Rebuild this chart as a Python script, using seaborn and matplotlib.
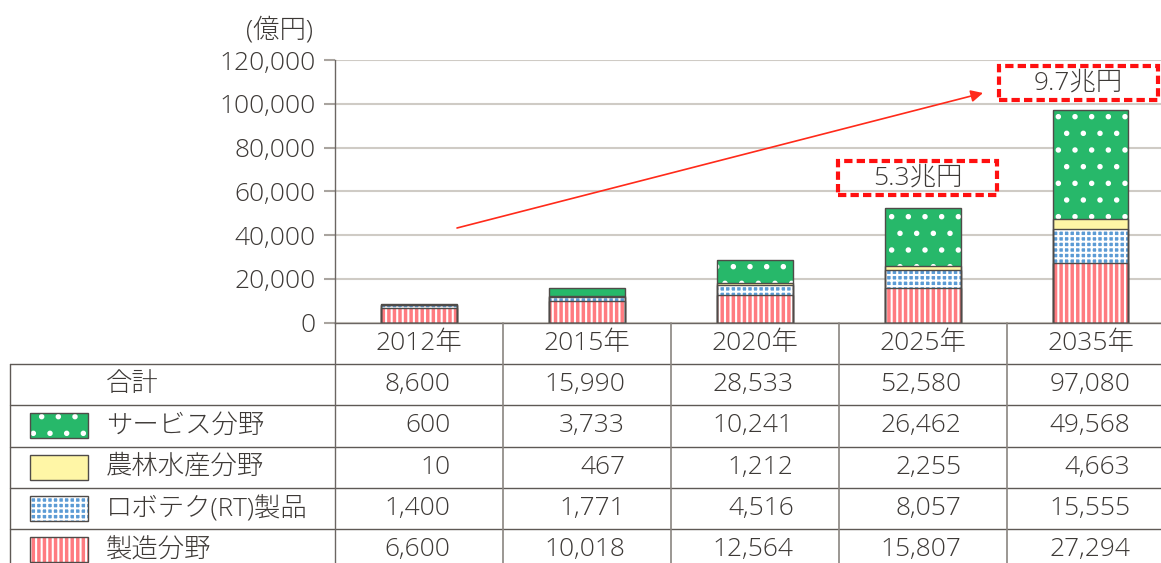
import numpy as np
import matplotlib
matplotlib.use('Agg')
import matplotlib.pyplot as plt
import matplotlib.patches as mpatches
import matplotlib.transforms as mtransforms
from matplotlib.lines import Line2D
from matplotlib.textpath import TextPath
from matplotlib.font_manager import FontProperties
import seaborn as sns

# data (億円)
years = ['2012年', '2015年', '2020年', '2025年', '2035年']
total = [8600, 15990, 28533, 52580, 97080]
service = [600, 3733, 10241, 26462, 49568]
agri = [10, 467, 1212, 2255, 4663]
robot = [1400, 1771, 4516, 8057, 15555]
manuf = [6600, 10018, 12564, 15807, 27294]

row_labels = ['合計', 'サービス分野', '農林水産分野', 'ロボテク(RT)製品', '製造分野']
callouts = ['5.3兆円', '9.7兆円']
unit_label = '(億円)'

W, H = 1161, 563
sns.set_style('white')
FAMILY = ['Open Sans', 'Noto Sans CJK JP', 'DejaVu Sans']
plt.rcParams['font.family'] = FAMILY
plt.rcParams['font.weight'] = 'light'
plt.rcParams['hatch.linewidth'] = 1.5
TXT = '#3d3936'
FS = 19
EDGE = '#4f4b48'

fig = plt.figure(figsize=(W / 100, H / 100), dpi=100)
ax_left, ax_base, ax_top, col_w = 334.7, 322.7, 60, 168
ax = fig.add_axes([ax_left / W, 1 - ax_base / H, 5 * col_w / W, (ax_base - ax_top) / H])

# pixel transform (origin top-left) and blended one for the table
px = mtransforms.Affine2D().scale(1 / W, -1 / H).translate(0, 1) + fig.transFigure
tx = mtransforms.blended_transform_factory(ax.transData, px)

# stacked bars: (values, colour, hatch) from bottom to top
layers = [(manuf, '#ff7b80', '|||'),
          (robot, '#5b9bd5', '+++'),
          (agri, '#fff6a6', ''),
          (service, '#27b86a', '.')]
tops = np.cumsum([l[0] for l in layers], axis=0)

for (vals, col, hatch), top in reversed(list(zip(layers, tops))):
    n = len(ax.patches)
    sns.barplot(x=years, y=top, color=col, saturation=1, width=0.45,
                errorbar=None, ax=ax)
    for p in ax.patches[n:]:
        p.set_facecolor(col)
        p.set_hatch(hatch)
        p.set_edgecolor('white')
        p.set_linewidth(0)

for top in tops:
    n = len(ax.patches)
    sns.barplot(x=years, y=top, color='white', width=0.45, errorbar=None, ax=ax)
    for p in ax.patches[n:]:
        p.set_facecolor('none')
        p.set_edgecolor(EDGE)
        p.set_linewidth(1.0)

ax.set_xlim(-0.5, 4.5)
ax.set_ylim(0, 120000)
ax.set_yticks(range(0, 120001, 20000))
ax.yaxis.set_major_formatter(matplotlib.ticker.FuncFormatter(lambda v, _: f'{int(v):,}'))
ax.yaxis.grid(True, color='#cfcbc5', lw=1.5)
ax.set_axisbelow(True)
ax.set_xlabel('')
ax.set_ylabel('')
for s in ['top', 'right']:
    ax.spines[s].set_visible(False)
for s in ['left', 'bottom']:
    ax.spines[s].set_color('#6b6663')
    ax.spines[s].set_linewidth(1.0)
ax.tick_params(axis='y', left=True, length=8, width=1.5, color='#a9a49f',
               pad=6, labelsize=FS, labelcolor=TXT)
ax.tick_params(axis='x', bottom=False, length=0, pad=6, labelsize=FS, labelcolor=TXT)

fig.text(313 / W, 1 - 30 / H, unit_label, ha='right', va='center', fontsize=FS, color=TXT)

# callout boxes and arrow
box_specs = [(2.494, 58470, 0.948, 15390), (3.452, 101870, 0.949, 15390)]
for label, (x0, y0, w, h) in zip(callouts, box_specs):
    ax.add_patch(mpatches.Rectangle((x0, y0), w, h, fill=False, ec='#ff1010',
                                    lw=3, ls=(0, (2, 1)), clip_on=False, zorder=5))
    ax.text(x0 + w / 2, y0 + h / 2, label, ha='center', va='center',
            fontsize=FS, color=TXT, zorder=6)

ax.annotate('', xy=(3.359, 104930), xytext=(0.228, 43260),
            arrowprops=dict(arrowstyle='-|>', color='#ff2a1a', lw=1.2,
                            mutation_scale=18, shrinkA=0, shrinkB=0), zorder=6)

# table below the chart
row_h = 41.3
row0 = ax_base + row_h
for k in range(6):
    y = row0 + k * row_h
    fig.add_artist(Line2D([10, W], [y, y], transform=px, color='#5e5955', lw=1.0))
fig.add_artist(Line2D([10, 10], [row0, H], transform=px, color='#5e5955', lw=1.0))
fig.add_artist(Line2D([-0.5, -0.5], [ax_base, H], transform=tx, color='#6b6663', lw=1.0))
for i in range(4):
    fig.add_artist(Line2D([i + 0.5, i + 0.5], [ax_base, H], transform=tx,
                          color='#8a8580', lw=1.2))

rows = [total, service, agri, robot, manuf]
swatches = [None] + [layers[3], layers[2], layers[1], layers[0]]
fp = FontProperties(family=FAMILY[0], weight='light')
for k, (label, vals, sw) in enumerate(zip(row_labels, rows, swatches)):
    yc = row0 + (k + 0.5) * row_h
    fig.text(106 / W, 1 - yc / H, label, ha='left', va='center', fontsize=FS, color=TXT)
    if sw is not None:
        _, col, hatch = sw
        fig.add_artist(mpatches.Rectangle((30, yc - 12.5), 58, 25, transform=px,
                                          facecolor=col, hatch=hatch, edgecolor='white', lw=0))
        fig.add_artist(mpatches.Rectangle((30, yc - 12.5), 58, 25, transform=px,
                                          fill=False, edgecolor=EDGE, lw=1.0))

# numbers right-aligned, widest one centred in its column
for i in range(len(years)):
    strs = [f'{r[i]:,}' for r in rows]
    widest = max(TextPath((0, 0), s, size=FS, prop=fp).get_extents().width for s in strs)
    half = widest * 100 / 72 / col_w / 2
    for k, s in enumerate(strs):
        yc = row0 + (k + 0.5) * row_h
        ax.text(i + half, yc, s, transform=tx, ha='right', va='center',
                fontsize=FS, color=TXT, clip_on=False)

fig.savefig('out.png', dpi=100)
